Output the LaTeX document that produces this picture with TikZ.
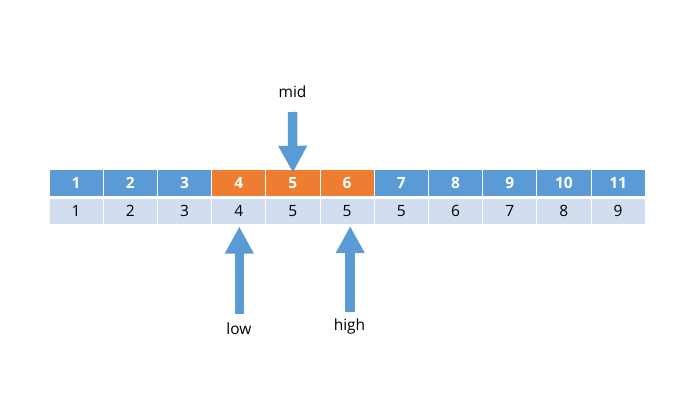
\documentclass[tikz,border=0pt]{standalone}
\usepackage{fontspec}
\setmainfont{Open Sans}
\usetikzlibrary{arrows.meta}
\definecolor{cblue}{HTML}{5B9BD5}
\definecolor{corange}{HTML}{ED7D31}
\definecolor{clight}{HTML}{D2DEEF}
\tikzset{
  topcell/.style={minimum width=53.2pt, minimum height=26pt, inner sep=0pt, text=white, font=\fontsize{15.5}{17}\selectfont\bfseries},
  botcell/.style={minimum width=53.2pt, minimum height=25pt, inner sep=0pt, fill=clight, text=black, font=\fontsize{15.5}{17}\selectfont},
  blockarrow/.style={draw=cblue, line width=9.5pt, -{Triangle[width=27pt,length=27pt]}, cblue},
  lbl/.style={font=\fontsize{15.5}{17}\selectfont, text=black}
}
\begin{document}
\begin{tikzpicture}[x=1pt,y=-1pt]
\useasboundingbox (0,0) rectangle (677,396);
\foreach \i/\t/\b/\c in {1/1/1/cblue,2/2/2/cblue,3/3/3/cblue,4/4/4/corange,5/5/5/corange,6/6/5/corange,7/7/5/cblue,8/8/6/cblue,9/9/7/cblue,10/10/8/cblue,11/11/9/cblue}{
  \node[topcell, fill=\c] (t\i) at ({49+54.2*(\i-0.5)},183) {\t};
  \node[botcell] (b\i) at ({49+54.2*(\i-0.5)},211.2) {\b};
}
% mid
\node[lbl] (mid) at (292.5,92) {mid};
\coordinate (midtail) at (292.5,112);
\draw[blockarrow] (midtail) -- ([yshift=-3pt]t5.north);
% low
\node[lbl] (low) at (239,329) {low};
\coordinate (lowtail) at (239.3,314);
\draw[blockarrow] (lowtail) -- (239.3,226.5);
% high
\node[lbl] (high) at (349.5,326) {high};
\coordinate (hightail) at (350.2,312);
\draw[blockarrow] (hightail) -- (350.2,226);
\end{tikzpicture}
\end{document}
